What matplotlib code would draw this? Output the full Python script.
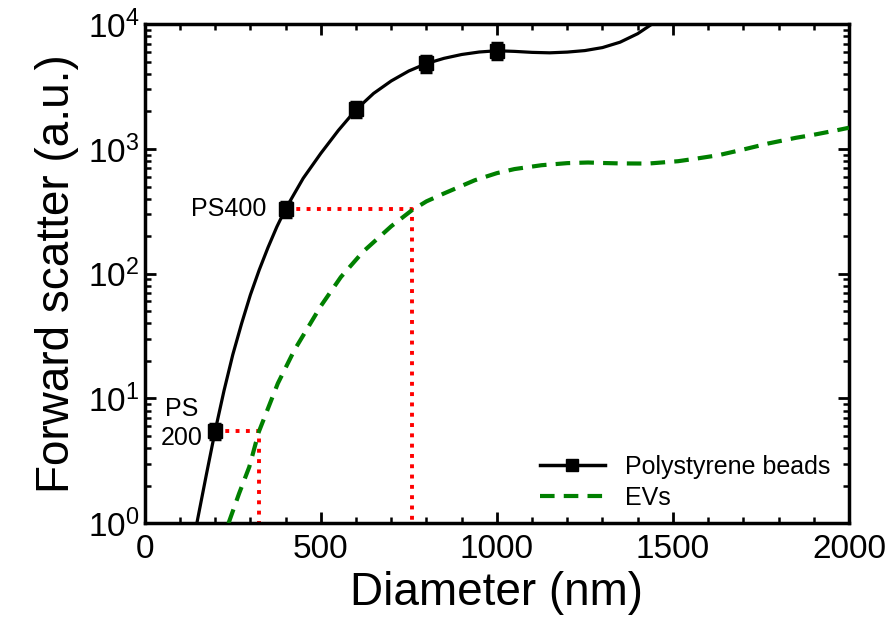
import numpy as np
import matplotlib
matplotlib.use('Agg')
from matplotlib import pyplot as plt
from matplotlib.lines import Line2D
from matplotlib.ticker import MultipleLocator, LogLocator, LogFormatterMathtext, NullFormatter

plt.rcParams['font.family'] = ['Liberation Sans', 'DejaVu Sans']
plt.rcParams['mathtext.fontset'] = 'custom'
plt.rcParams['mathtext.rm'] = 'Liberation Sans'
plt.rcParams['mathtext.it'] = 'Liberation Sans:italic'
plt.rcParams['mathtext.bf'] = 'Liberation Sans:bold'
plt.rcParams['mathtext.default'] = 'regular'

# polystyrene bead calibration curve (nm, a.u.)
ps_curve_d = [148, 175, 200, 225, 250, 275, 300, 325, 350, 375, 400, 450, 500, 550,
              600, 650, 700, 750, 800, 850, 900, 950, 1000, 1050, 1100, 1150, 1200,
              1250, 1300, 1350, 1400, 1440, 1460]
ps_curve_fsc = [1.0, 2.45, 5.5, 11.5, 22.4, 39.8, 67.6, 107, 162, 237, 331, 582, 922, 1410,
                2065, 2790, 3510, 4220, 4840, 5330, 5720, 5990, 6130, 6060, 5950, 5900, 5980,
                6150, 6500, 7180, 8400, 10000, 10900]

# measured beads
bead_d = [200, 400, 600, 800, 1000]
bead_fsc = [5.5, 330, 2100, 4850, 6150]

# EV curve
ev_d = [238, 268, 297, 324, 378, 425, 500, 557, 620, 700, 757, 800, 850, 937, 1000,
        1050, 1127, 1200, 1259, 1300, 1350, 1430, 1515, 1570, 1629, 1700, 1771,
        1850, 1900, 1966, 2000]
ev_fsc = [1.0, 1.73, 2.83, 5.4, 13.2, 24.4, 55, 94, 150, 240, 320, 380, 440, 561, 640,
          690, 741, 770, 779, 772, 766, 764, 798, 840, 891, 990, 1107,
          1230, 1300, 1413, 1480]

# equivalent EV diameter for PS200 / PS400 scatter
ref_bead_d = [200, 400]
ref_fsc = [5.5, 330]
ev_equiv_d = [324, 759]


def main():
    fig = plt.figure(figsize=(8.88, 6.38), dpi=100)
    ax = fig.add_axes([0.163, 0.180, 0.793, 0.782])

    for bd, f, ed in zip(ref_bead_d, ref_fsc, ev_equiv_d):
        ax.plot([bd, ed, ed], [f, f, 1.0], color='#ff0000', ls=':', lw=2.8, zorder=2)

    ax.plot(ev_d, ev_fsc, color='#008000', ls=(0, (3.5, 2.2)), lw=3.0, zorder=3)
    ax.plot(ps_curve_d, ps_curve_fsc, color='black', lw=2.3, zorder=4)

    bead_fsc_arr = np.array(bead_fsc)
    ax.errorbar(bead_d, bead_fsc, xerr=14, yerr=0.14 * bead_fsc_arr, fmt='s',
                color='black', ms=9.5, capsize=4.5, elinewidth=2.5, capthick=2.5, zorder=5)

    ax.text(345, 330, 'PS400', ha='right', va='center', fontsize=18)
    ax.text(105, 6.3, 'PS\n200', ha='center', va='center', fontsize=18,
            multialignment='center', linespacing=1.25)

    ax.set_xlim(0, 2000)
    ax.set_yscale('log')
    ax.set_ylim(1, 1e4)
    ax.xaxis.set_major_locator(MultipleLocator(500))
    ax.xaxis.set_minor_locator(MultipleLocator(100))
    ax.yaxis.set_major_locator(LogLocator(base=10, numticks=10))
    ax.yaxis.set_minor_locator(LogLocator(base=10, subs=np.arange(2, 10), numticks=10))
    ax.yaxis.set_major_formatter(LogFormatterMathtext())
    ax.yaxis.set_minor_formatter(NullFormatter())

    ax.tick_params(which='both', direction='in', top=True, right=True, width=2)
    ax.tick_params(which='major', length=8, labelsize=24)
    ax.tick_params(axis='x', which='major', pad=8)
    ax.tick_params(axis='y', which='major', pad=4)
    ax.tick_params(which='minor', length=4, width=1.8)
    for sp in ax.spines.values():
        sp.set_linewidth(2.5)

    ax.set_xlabel('Diameter (nm)', fontsize=33, labelpad=4)
    ax.set_ylabel('Forward scatter (a.u.)', fontsize=33, labelpad=6)

    handles = [Line2D([], [], color='black', lw=2.5, marker='s', ms=9),
               Line2D([], [], color='#008000', lw=3.0, ls=(0, (3.5, 2.2)))]
    ax.legend(handles, ['Polystyrene beads', 'EVs'], loc='lower right',
              bbox_to_anchor=(0.992, 0.0), frameon=False,
              fontsize=18, handlelength=2.6, borderaxespad=0.12, labelspacing=0.3)

    fig.savefig('out.png', dpi=100)


if __name__ == '__main__':
    main()
